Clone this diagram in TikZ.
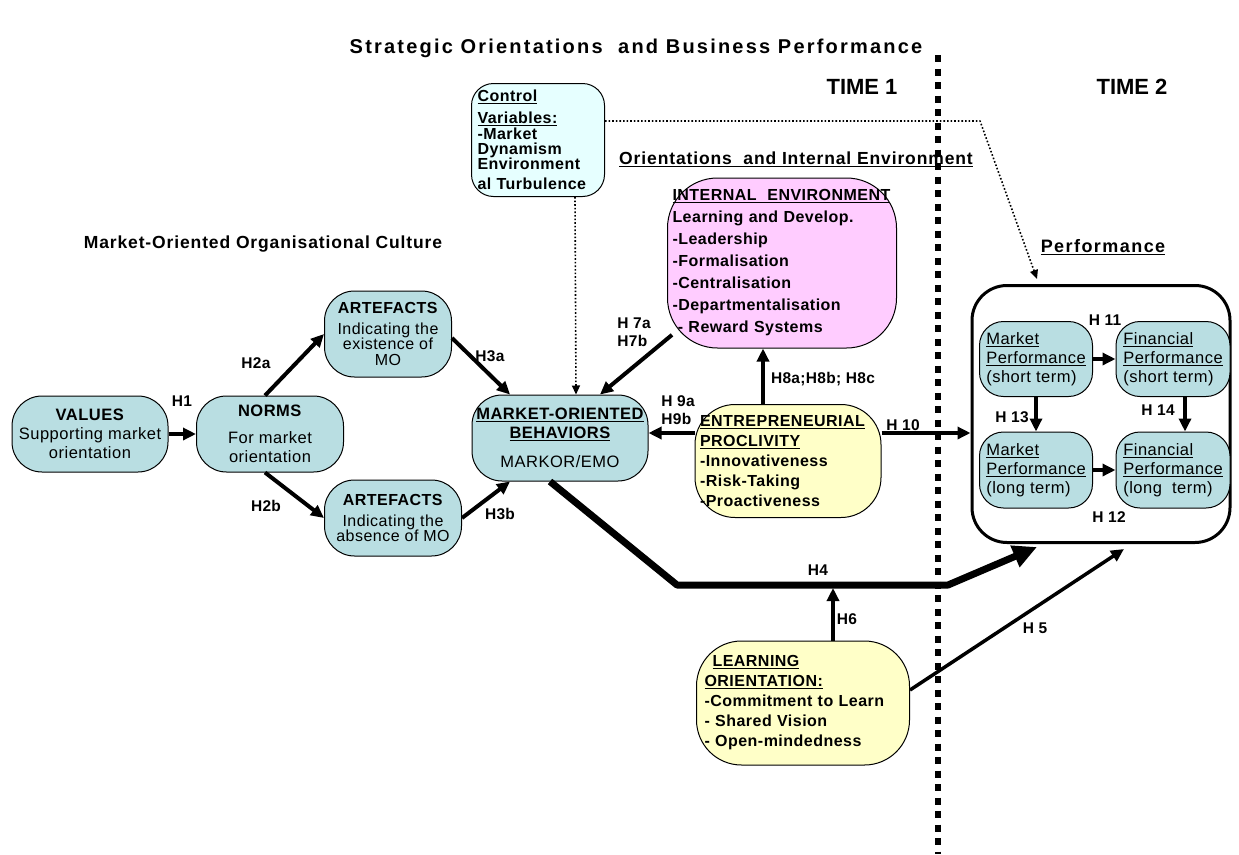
\documentclass[tikz,border=0pt]{standalone}
\usepackage{fontspec}
\setmainfont{Liberation Sans}
\usetikzlibrary{arrows.meta}
\definecolor{boxteal}{RGB}{185,222,226}
\definecolor{boxpink}{RGB}{255,204,255}
\definecolor{boxyellow}{RGB}{255,255,200}
\definecolor{boxcyan}{RGB}{230,255,255}
\newcommand{\spread}[1]{\addfontfeature{LetterSpace=#1}}
\begin{document}
\begin{tikzpicture}[x=1pt,y=-1pt,>={Triangle[length=13pt,width=12pt]},line join=round,
		box/.style={draw,line width=1pt,rounded corners=30pt,inner sep=3pt,font=\fontsize{16.5}{19}\selectfont\spread{3}},
		tealbox/.style={box,fill=boxteal,align=center},
		listbox/.style={box,align=left,font=\bfseries\fontsize{16}{20}\selectfont\spread{3}},
		perfbox/.style={box,fill=boxteal,align=left,rounded corners=24pt,minimum width=113pt,minimum height=75pt},
		hyp/.style={->,line width=4pt},
		lab/.style={font=\bfseries\fontsize{15.5}{18}\selectfont\spread{2}},
		heading/.style={font=\bfseries\fontsize{17.5}{20}\selectfont\spread{5}}]
	\useasboundingbox (0,0) rectangle (1239,854);
	\node[font=\bfseries\fontsize{20}{22}\selectfont\spread{11}] (title) at (636,48) {Strategic Orientations \ and Business Performance};
	\node[font=\bfseries\fontsize{22}{24}\selectfont] (t1) at (862,87) {TIME 1};
	\node[font=\bfseries\fontsize{22}{24}\selectfont] (t2) at (1132,87) {TIME 2};
	\node[heading] (culture) at (263,244) {Market-Oriented Organisational Culture};
	\node[heading] (orient) at (796,159) {\underline{Orientations \ and Internal Environment}};
	\node[heading,font=\bfseries\fontsize{18}{20}\selectfont\spread{8}] (perftitle) at (1103,247) {\underline{Performance}};
	\node[listbox,fill=boxcyan,rounded corners=22pt,minimum width=133pt,minimum height=113pt,text width=121pt] (ctrl) at (538,140) {\underline{Control}\\[2pt]\underline{Variables:}\\[1pt]\fontsize{16}{15}\selectfont-Market\\Dynamism\\Environment\\al Turbulence};
	\node[listbox,fill=boxpink,rounded corners=50pt,minimum width=229pt,minimum height=170pt,text width=219pt,font=\bfseries\fontsize{16}{22}\selectfont\spread{3}] (ienv) at (782,263) {\underline{INTERNAL \ ENVIRONMENT}\\Learning and Develop.\\-Leadership\\-Formalisation\\-Centralisation\\-Departmentalisation\\\ - Reward Systems};
	\node[tealbox,minimum width=156pt,minimum height=76pt] (vals) at (90,434) {\textbf{VALUES}\\Supporting market\\orientation};
	\node[tealbox,minimum width=147pt,minimum height=76pt] (norms) at (270,434) {\textbf{NORMS}\\[8pt]For market\\orientation};
	\node[tealbox,minimum width=127pt,minimum height=86pt,font=\fontsize{16}{15.5}\selectfont\spread{3}] (art1) at (388,334) {\textbf{ARTEFACTS}\\[5pt]Indicating the\\existence of\\MO};
	\node[tealbox,minimum width=137pt,minimum height=76pt,font=\fontsize{16}{15.5}\selectfont\spread{3}] (art2) at (393,518) {\textbf{ARTEFACTS}\\[5pt]Indicating the\\absence of MO};
	\node[tealbox,minimum width=176pt,minimum height=86pt] (mob) at (560,438) {\textbf{\underline{MARKET-ORIENTED}}\\\textbf{\underline{BEHAVIORS}}\\[10pt]MARKOR/EMO};
	\node[listbox,fill=boxyellow,rounded corners=40pt,minimum width=186pt,minimum height=113pt,text width=176pt] (ent) at (788,461) {\underline{ENTREPRENEURIAL}\\\underline{PROCLIVITY}\\-Innovativeness\\-Risk-Taking\\-Proactiveness};
	\node[listbox,fill=boxyellow,rounded corners=45pt,minimum width=213pt,minimum height=124pt,text width=197pt] (lo) at (803,703) {\hspace{8pt}\underline{LEARNING}\\\underline{ORIENTATION:}\\-Commitment to Learn\\- Shared Vision\\- Open-mindedness};
	\node[draw,line width=3pt,rounded corners=35pt,minimum width=258pt,minimum height=257pt] (perf) at (1101,414) {};
	\node[perfbox] (mps) at (1036,359) {\underline{Market}\\\underline{Performance}\\(short term)};
	\node[perfbox,minimum width=114pt] (fps) at (1173,359) {\underline{Financial}\\\underline{Performance}\\(short term)};
	\node[perfbox,minimum height=76pt] (mpl) at (1036,470) {\underline{Market}\\\underline{Performance}\\(long term)};
	\node[perfbox,minimum width=114pt,minimum height=76pt] (fpl) at (1173,470) {\underline{Financial}\\\underline{Performance}\\(long \ term)};
	\coordinate (h4a) at (677,585);
	\coordinate (h4b) at (948,585);
	\coordinate (h4end) at (1037,547);
	\coordinate (h5end) at (1124,549);
	\coordinate (ctrlbend) at (980,121);
	\draw[hyp] (vals) -- (norms);
	\draw[hyp] ([xshift=-5pt]norms.north) -- (art1.west);
	\draw[hyp] ([xshift=-5pt]norms.south) -- (art2.west);
	\draw[hyp] ([yshift=-4pt]art1.east) -- ([xshift=-50pt]mob.north);
	\draw[hyp] (art2.east) -- ([xshift=-50pt]mob.south);
	\draw[hyp] ([xshift=5pt]ienv.212) -- ([xshift=40pt]mob.north);
	\draw[->,dotted,line width=1.6pt,>={Triangle[length=9pt,width=8pt]}] ([xshift=37pt]ctrl.south) -- ([xshift=16pt]mob.north);
	\draw[->,dotted,line width=1.6pt,>={Triangle[length=9pt,width=8pt]}] ([yshift=19pt]ctrl.east) -- (ctrlbend) -- ([xshift=-64pt,yshift=5pt]perf.north);
	\draw[hyp] ([yshift=5pt]ent.west |- mob.east) -- ([yshift=5pt]mob.east);
	\draw[hyp] ([xshift=-25pt]ent.north) -- ([xshift=-25pt]ent.north |- ienv.south);
	\draw[hyp] ([yshift=28pt]ent.east) -- ([yshift=28pt]ent.east -| perf.west);
	\draw[->,line width=7pt,>={Triangle[length=24pt,width=22pt]}] ([xshift=-10pt]mob.south) -- (h4a) -- (h4b) -- (h4end);
	\draw[hyp,shorten >=3pt] ([xshift=30pt]lo.north) -- ([xshift=30pt]lo.north |- h4a);
	\draw[->,line width=3.5pt] ([yshift=13pt]lo.east) -- (h5end);
	\draw[hyp] (mps) -- (fps);
	\draw[hyp] (mpl) -- (fpl);
	\draw[hyp] (mps) -- (mpl);
	\draw[hyp] ([xshift=12pt]fps.south) -- ([xshift=12pt]fpl.north);
	\draw[line width=6pt,dash pattern=on 7pt off 6.5pt] (938,55) -- (938,854);
	\node[lab] (lh1) at (182,401) {H1};
	\node[lab] (lh2a) at (256,363) {H2a};
	\node[lab] (lh2b) at (266,506) {H2b};
	\node[lab] (lh3a) at (490,356) {H3a};
	\node[lab] (lh3b) at (500,514) {H3b};
	\node[lab,align=left] (lh7) at (634,332) {H 7a\\H7b};
	\node[lab,align=left] (lh9) at (678,410) {H 9a\\H9b};
	\node[lab] (lh8) at (823,379) {H8a;H8b; H8c};
	\node[lab] (lh10) at (903,425) {H 10};
	\node[lab] (lh4) at (818,570) {H4};
	\node[lab] (lh6) at (847,619) {H6};
	\node[lab] (lh5) at (1035,628) {H 5};
	\node[lab] (lh11) at (1105,320) {H 11};
	\node[lab] (lh13) at (1012,417) {H 13};
	\node[lab] (lh14) at (1158,410) {H 14};
	\node[lab] (lh12) at (1109,517) {H 12};
\end{tikzpicture}
\end{document}
